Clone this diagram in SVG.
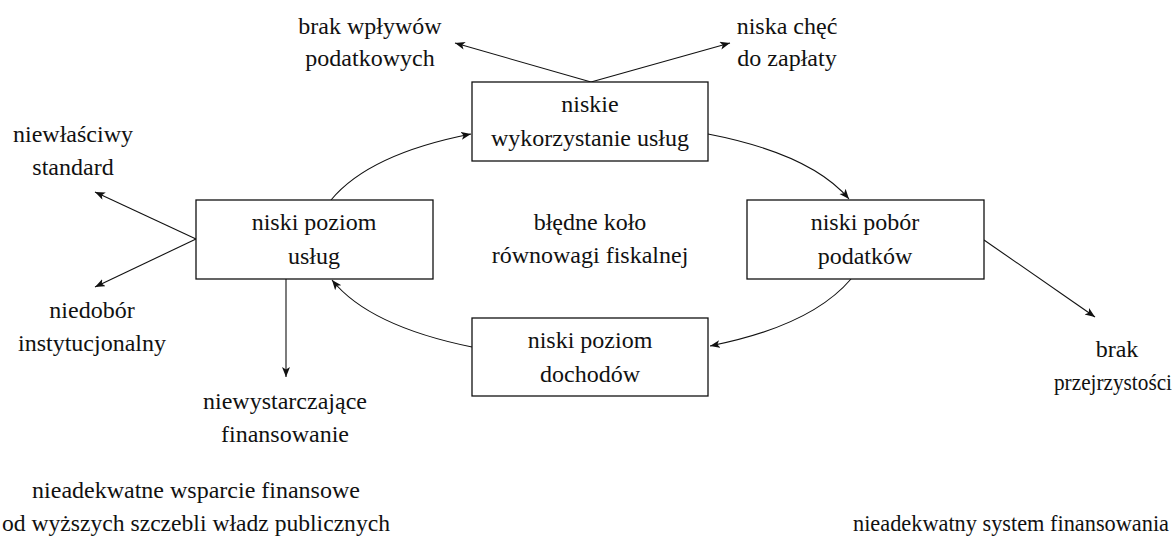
<svg xmlns="http://www.w3.org/2000/svg" width="1175" height="538" viewBox="0 0 1175 538">
<defs>
<marker id="ah" markerUnits="userSpaceOnUse" markerWidth="12" markerHeight="10" refX="10" refY="4" orient="auto">
<path d="M0,0 L10,4 L0,8 L2.5,4 Z" fill="#111"/>
</marker>
</defs>
<rect width="1175" height="538" fill="#fff"/>
<g id="connectors" fill="none" stroke="#111" stroke-width="1.1" marker-end="url(#ah)">
<path d="M591,82 L455,43"/>
<path d="M591,82 L730,43"/>
<path d="M331,200 Q369,154 471,134"/>
<path d="M708,134 Q811,154 849,199"/>
<path d="M851,279 Q811,326 710,346"/>
<path d="M472,347 Q369,326 332,280"/>
<path d="M196,239 L95,192"/>
<path d="M196,239 L95,287"/>
<path d="M286,279 L286,377"/>
<path d="M984,240 L1095,317"/>
</g>
<g fill="#111">
<g id="n-wykorzystanie">
<rect x="472" y="82" width="236" height="79" fill="#fff" stroke="#111" stroke-width="1.3"/>
<text x="590" y="112" style="font-family:'Times New Roman',serif;font-size:24px" text-anchor="middle">niskie</text>
<text x="590" y="146" style="font-family:'Times New Roman',serif;font-size:24px" text-anchor="middle">wykorzystanie us&#322;ug</text>
</g>
<g id="n-uslugi">
<rect x="196" y="200" width="237" height="79" fill="#fff" stroke="#111" stroke-width="1.3"/>
<text x="314" y="230" style="font-family:'Times New Roman',serif;font-size:24px" text-anchor="middle">niski poziom</text>
<text x="314" y="264" style="font-family:'Times New Roman',serif;font-size:24px" text-anchor="middle">us&#322;ug</text>
</g>
<g id="n-podatki">
<rect x="747" y="200" width="237" height="79" fill="#fff" stroke="#111" stroke-width="1.3"/>
<text x="865" y="230" style="font-family:'Times New Roman',serif;font-size:24px" text-anchor="middle">niski pob&#243;r</text>
<text x="865" y="264" style="font-family:'Times New Roman',serif;font-size:24px" text-anchor="middle">podatk&#243;w</text>
</g>
<g id="n-dochody">
<rect x="472" y="318" width="236" height="78" fill="#fff" stroke="#111" stroke-width="1.3"/>
<text x="590" y="348" style="font-family:'Times New Roman',serif;font-size:24px" text-anchor="middle">niski poziom</text>
<text x="590" y="382" style="font-family:'Times New Roman',serif;font-size:24px" text-anchor="middle">dochod&#243;w</text>
</g>
<g id="center-label">
<text x="590" y="230" style="font-family:'Times New Roman',serif;font-size:24px" text-anchor="middle">b&#322;&#281;dne ko&#322;o</text>
<text x="590" y="263" style="font-family:'Times New Roman',serif;font-size:24px" text-anchor="middle">r&#243;wnowagi fiskalnej</text>
</g>
<g id="l-wplywy">
<text x="370" y="34" style="font-family:'Times New Roman',serif;font-size:24px" text-anchor="middle">brak wp&#322;yw&#243;w</text>
<text x="370" y="66" style="font-family:'Times New Roman',serif;font-size:24px" text-anchor="middle">podatkowych</text>
</g>
<g id="l-chec">
<text x="787" y="34" style="font-family:'Times New Roman',serif;font-size:24px" text-anchor="middle">niska ch&#281;&#263;</text>
<text x="787" y="66" style="font-family:'Times New Roman',serif;font-size:24px" text-anchor="middle">do zap&#322;aty</text>
</g>
<g id="l-standard">
<text x="73" y="142" style="font-family:'Times New Roman',serif;font-size:24px" text-anchor="middle">niew&#322;a&#347;ciwy</text>
<text x="73" y="175" style="font-family:'Times New Roman',serif;font-size:24px" text-anchor="middle">standard</text>
</g>
<g id="l-niedobor">
<text x="92" y="318" style="font-family:'Times New Roman',serif;font-size:24px" text-anchor="middle">niedob&#243;r</text>
<text x="92" y="351" style="font-family:'Times New Roman',serif;font-size:24px" text-anchor="middle">instytucjonalny</text>
</g>
<g id="l-finansowanie">
<text x="285" y="409" style="font-family:'Times New Roman',serif;font-size:24px" text-anchor="middle">niewystarczaj&#261;ce</text>
<text x="285" y="442" style="font-family:'Times New Roman',serif;font-size:24px" text-anchor="middle">finansowanie</text>
</g>
<g id="l-przejrzystosc">
<text x="1117" y="357" style="font-family:'Times New Roman',serif;font-size:24px" text-anchor="middle">brak</text>
<text x="1113" y="390" style="font-family:'Times New Roman',serif;font-size:24px" text-anchor="middle" textLength="118" lengthAdjust="spacingAndGlyphs">przejrzysto&#347;ci</text>
</g>
<g id="l-wsparcie">
<text x="196" y="498" style="font-family:'Times New Roman',serif;font-size:24px" text-anchor="middle">nieadekwatne wsparcie finansowe</text>
<text x="196" y="531" style="font-family:'Times New Roman',serif;font-size:24px" text-anchor="middle" textLength="388" lengthAdjust="spacingAndGlyphs">od wy&#380;szych szczebli w&#322;adz publicznych</text>
</g>
<g id="l-system">
<text x="1011" y="531" style="font-family:'Times New Roman',serif;font-size:24px" text-anchor="middle" textLength="316" lengthAdjust="spacingAndGlyphs">nieadekwatny system finansowania</text>
</g>
</g>
</svg>
